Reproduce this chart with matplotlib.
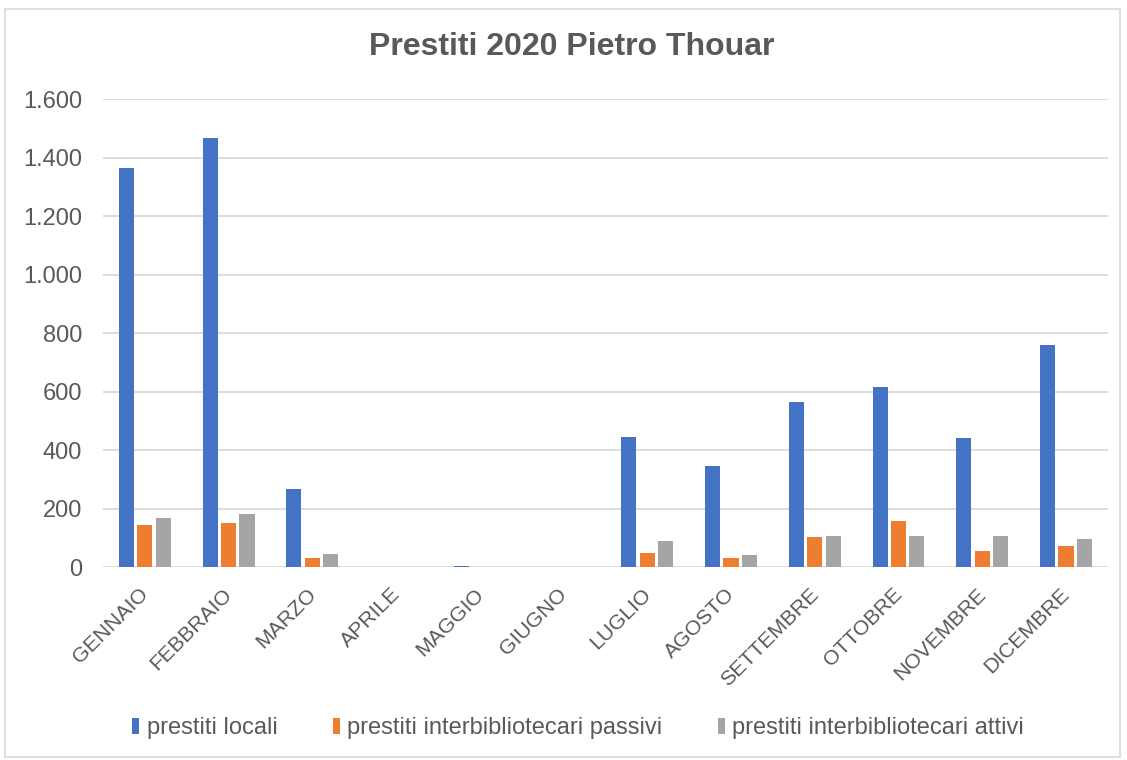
import matplotlib
matplotlib.use("Agg")
import numpy as np
from matplotlib import pyplot as plt
from matplotlib.ticker import FuncFormatter
from matplotlib.patches import Rectangle
from matplotlib.transforms import ScaledTranslation

plt.rcParams['font.family'] = ['Liberation Sans', 'DejaVu Sans']

mesi = ['GENNAIO', 'FEBBRAIO', 'MARZO', 'APRILE', 'MAGGIO', 'GIUGNO',
        'LUGLIO', 'AGOSTO', 'SETTEMBRE', 'OTTOBRE', 'NOVEMBRE', 'DICEMBRE']
locali = [1363, 1468, 267, 0, 5, 0, 447, 346, 565, 616, 441, 760]
passivi = [146, 152, 32, 0, 0, 0, 50, 32, 103, 159, 57, 72]
attivi = [169, 182, 47, 0, 0, 0, 90, 44, 108, 106, 108, 97]

serie = [('prestiti locali', locali, '#4472C4'),
         ('prestiti interbibliotecari passivi', passivi, '#ED7D31'),
         ('prestiti interbibliotecari attivi', attivi, '#A5A5A5')]

testo = '#595959'

fig = plt.figure(figsize=(11.27, 7.6), dpi=100)
ax = fig.add_axes([0.0914, 0.2533, 0.8916, 0.6164])

x = np.arange(len(mesi))
w = 0.18
for i, (nome, vals, col) in enumerate(serie):
    ax.bar(x + (i - 1) * 0.22, vals, w, color=col, label=nome,
           linewidth=0, zorder=3)

ax.set_xlim(-0.5, len(mesi) - 0.5)
ax.set_ylim(0, 1600)
ax.set_yticks(range(0, 1601, 200))
ax.yaxis.set_major_formatter(FuncFormatter(lambda v, p: f'{int(v):,}'.replace(',', '.')))
ax.grid(axis='y', color='#D9D9D9', linewidth=1.3, zorder=0)
for s in ax.spines.values():
    s.set_visible(False)
ax.tick_params(axis='both', length=0, colors=testo, labelsize=17)
ax.tick_params(axis='y', pad=15)
ax.set_xticks(x)
ax.set_xticklabels(mesi, rotation=45, ha='right', rotation_mode='anchor', fontsize=15.2)
ax.tick_params(axis='x', pad=8)
sposta = ScaledTranslation(-6 / 100, -6 / 100, fig.dpi_scale_trans)
for lab in ax.get_xticklabels():
    lab.set_transform(lab.get_transform() + sposta)

fig.suptitle('Prestiti 2020 Pietro Thouar', x=0.507, y=0.958, fontsize=23,
             fontweight='bold', color=testo)

fig.legend(loc='center', bbox_to_anchor=(0.513, 0.042), ncol=3, frameon=False,
           fontsize=17, labelcolor=testo, handlelength=0.3, handleheight=0.65,
           handletextpad=0.3, columnspacing=2.36)

fig.patches.append(Rectangle((5 / 1127, 3 / 760), 1115 / 1127, 748 / 760,
                             transform=fig.transFigure, fill=False,
                             edgecolor='#D9D9D9', linewidth=1.2))

fig.savefig('out.png', dpi=100)
